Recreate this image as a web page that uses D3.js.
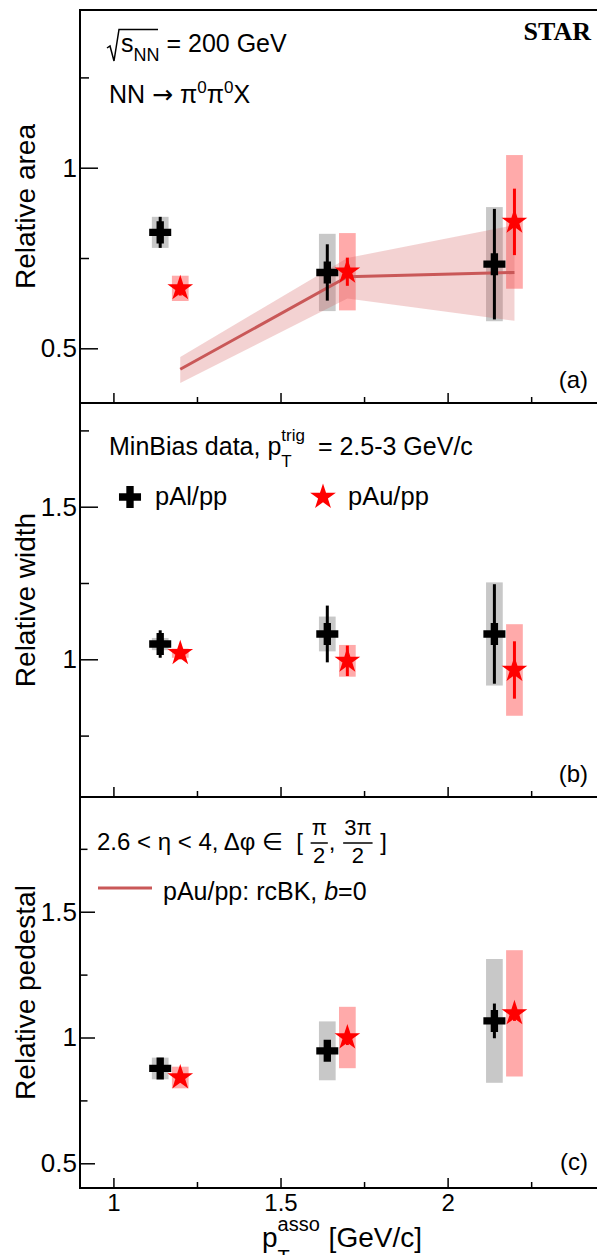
<!DOCTYPE html>
<html>
<head>
<meta charset="utf-8">
<script src="https://cdn.jsdelivr.net/npm/d3@7"></script>
<style>
  body { margin: 0; background: #fff; }
  text { font-family: "Liberation Sans", Arial, Helvetica, "DejaVu Sans", sans-serif; }
</style>
</head>
<body>
<svg id="chart" width="597" height="1255"></svg>
<script>
// x positions (GeV/c)
const ptAl = [1.14, 1.64, 2.14];
const ptAu = [1.2, 1.7, 2.2];

// (a) relative area
const alArea = [0.821, 0.710, 0.733];
const alAreaStat = [0.043, 0.078, 0.153];
const alAreaSys = [0.043, 0.107, 0.158];
const auArea = [0.666, 0.712, 0.850];
const auAreaStat = [0.02, 0.039, 0.092];
const auAreaSys = [0.035, 0.107, 0.185];

// rcBK calculation, pAu/pp
const thPt = [1.2, 1.7, 2.2];
const thArea = [0.442, 0.698, 0.710];
const thLow = [0.404, 0.638, 0.576];
const thHigh = [0.476, 0.750, 0.841];

// (b) relative width
const alWidth = [1.05, 1.083, 1.083];
const alWidthStat = [0.045, 0.093, 0.163];
const alWidthSys = [0.02, 0.057, 0.169];
const auWidth = [1.02, 0.995, 0.965];
const auWidthStat = [0.02, 0.05, 0.094];
const auWidthSys = [0.015, 0.052, 0.15];

// (c) relative pedestal
const alPed = [0.877, 0.947, 1.066];
const alPedStat = [0.02, 0.03, 0.069];
const alPedSys = [0.043, 0.117, 0.246];
const auPed = [0.841, 1.0, 1.096];
const auPedStat = [0.02, 0.03, 0.03];
const auPedSys = [0.043, 0.122, 0.251];

// ticks
const xMajor = [1, 1.5, 2];
const xMinor = [1.25, 1.75, 2.25];
const xLabels = ["1", "1.5", "2"];
const yMajorA = [0.5, 1], yLabelsA = ["0.5", "1"], yMinorA = [0.75, 1.25];
const yMajorB = [1, 1.5], yLabelsB = ["1", "1.5"], yMinorB = [0.75, 1.25, 1.75];
const yMajorC = [0.5, 1, 1.5], yLabelsC = ["0.5", "1", "1.5"], yMinorC = [0.75, 1.25, 1.75];

const svg = d3.select("#chart");
const left = 80, right = 598;
const x = d3.scaleLinear().domain([0.9, 2.45]).range([left, right]);
const boxHalf = 0.025;

const greyBox = "#c8c8c8", pinkBox = "#ffaaaa", red = "#ff0000";
const thColor = "#c95858", bandColor = "rgba(210,90,90,0.27)";

const panels = [
    {y0: 10, y1: 403, dom: [0.3486, 1.4366], major: yMajorA, labels: yLabelsA, minor: yMinorA, tick: 18,
     title: "Relative area", tag: "(a)", tagY: 388,
     al: [alArea, alAreaStat, alAreaSys], au: [auArea, auAreaStat, auAreaSys], theory: true},
    {y0: 403, y1: 797, dom: [0.5488, 1.8398], major: yMajorB, labels: yLabelsB, minor: yMinorB, tick: 18,
     title: "Relative width", tag: "(b)", tagY: 782,
     al: [alWidth, alWidthStat, alWidthSys], au: [auWidth, auWidthStat, auWidthSys]},
    {y0: 797, y1: 1188, dom: [0.4018, 1.956], major: yMajorC, labels: yLabelsC, minor: yMinorC, tick: 15,
     title: "Relative pedestal", tag: "(c)", tagY: 1170,
     al: [alPed, alPedStat, alPedSys], au: [auPed, auPedStat, auPedSys], xLabels: true}
];

const cross = d3.symbol(d3.symbolCross, 270)();
const star = d3.symbol(d3.symbolStar, 205)();

// sequential pieces of text: plain, stacked sup/sub, or fraction
function rich(g, x0, y0, parts, base) {
    base = base || 24;
    const grp = g.append("g").attr("transform", `translate(${x0},${y0})`);
    let cx = 0;
    const put = (t, px, py, fs, p) => {
        const el = grp.append("text")
            .attr("x", px).attr("y", py)
            .attr("font-size", fs)
            .attr("xml:space", "preserve")
            .style("white-space", "pre")
            .text(t);
        if (p && p.it) el.attr("font-style", "italic");
        if (p && p.fam) el.style("font-family", p.fam);
        return el;
    };
    parts.forEach(p => {
        if (typeof p === "string") p = {t: p};
        if (p.num !== undefined) {
            const fs = p.fs || 22;
            const n = put(p.num, 0, 0, fs).attr("text-anchor", "middle");
            const d = put(p.den, 0, 0, fs).attr("text-anchor", "middle");
            const w = Math.max(n.node().getComputedTextLength(), d.node().getComputedTextLength()) + 2;
            n.attr("x", cx + w / 2 + 1).attr("y", -15);
            d.attr("x", cx + w / 2 + 1).attr("y", 13);
            grp.append("line").attr("x1", cx + 1).attr("x2", cx + w + 1)
                .attr("y1", -7).attr("y2", -7).attr("stroke", "#000").attr("stroke-width", 1.5);
            cx += w + 2;
        } else if (p.sup !== undefined) {
            const fs = p.fs || 17;
            const a = put(p.sup, cx, p.supDy || -14, fs);
            const b = put(p.sub, cx, p.subDy || 12, fs);
            cx += Math.max(a.node().getComputedTextLength(), b.node().getComputedTextLength()) + (p.gap || 1);
        } else {
            const el = put(p.t, cx, p.dy || 0, p.fs || base, p);
            cx += el.node().getComputedTextLength();
        }
    });
    return grp;
}

panels.forEach(P => {
    const y = d3.scaleLinear().domain(P.dom).range([P.y1, P.y0]);
    const g = svg.append("g");

    // systematic boxes
    [[ptAl, P.al, greyBox], [ptAu, P.au, pinkBox]].forEach(([px, s, col]) => {
        g.append("g").selectAll("rect").data(px).enter().append("rect")
            .attr("x", d => x(d - boxHalf))
            .attr("width", d => x(d + boxHalf) - x(d - boxHalf))
            .attr("y", (d, i) => y(s[0][i] + s[2][i]))
            .attr("height", (d, i) => y(s[0][i] - s[2][i]) - y(s[0][i] + s[2][i]))
            .attr("fill", col);
    });

    if (P.theory) {
        const band = d3.area()
            .x((d, i) => x(thPt[i]))
            .y0((d, i) => y(thLow[i]))
            .y1((d, i) => y(thHigh[i]));
        g.append("path").attr("d", band(thPt)).attr("fill", bandColor);
        const line = d3.line().x((d, i) => x(thPt[i])).y((d, i) => y(thArea[i]));
        g.append("path").attr("d", line(thPt)).attr("fill", "none")
            .attr("stroke", thColor).attr("stroke-width", 3);
    }

    // statistical errors and markers
    [[ptAl, P.al, "#000", cross], [ptAu, P.au, red, star]].forEach(([px, s, col, sym]) => {
        g.append("g").selectAll("line").data(px).enter().append("line")
            .attr("x1", d => x(d)).attr("x2", d => x(d))
            .attr("y1", (d, i) => y(s[0][i] + s[1][i]))
            .attr("y2", (d, i) => y(s[0][i] - s[1][i]))
            .attr("stroke", col).attr("stroke-width", 3);
        g.append("g").selectAll("path").data(px).enter().append("path")
            .attr("d", sym)
            .attr("transform", (d, i) => `translate(${x(d)},${y(s[0][i])})`)
            .attr("fill", col);
    });

    // axes
    const yAxis = d3.axisLeft(y).tickValues(P.major)
        .tickFormat((d, i) => P.labels[i]).tickSizeInner(-P.tick).tickSizeOuter(0).tickPadding(3);
    const ya = g.append("g").attr("transform", `translate(${left},0)`).call(yAxis);
    ya.select(".domain").remove();
    ya.selectAll("text").attr("font-size", 26).attr("fill", "#000")
        .style("font-family", '"Liberation Sans", Arial, sans-serif');
    const yMin = g.append("g").attr("transform", `translate(${left},0)`)
        .call(d3.axisLeft(y).tickValues(P.minor).tickFormat("").tickSizeInner(-P.tick / 2).tickSizeOuter(0));
    yMin.select(".domain").remove();

    const xAxis = d3.axisBottom(x).tickValues(xMajor)
        .tickFormat((d, i) => P.xLabels ? xLabels[i] : "").tickSizeInner(-10).tickSizeOuter(0).tickPadding(6);
    const xa = g.append("g").attr("transform", `translate(0,${P.y1})`).call(xAxis);
    xa.select(".domain").remove();
    xa.selectAll("text").attr("font-size", 24).attr("fill", "#000")
        .style("font-family", '"Liberation Sans", Arial, sans-serif');
    const xMin = g.append("g").attr("transform", `translate(0,${P.y1})`)
        .call(d3.axisBottom(x).tickValues(xMinor).tickFormat("").tickSizeInner(-6).tickSizeOuter(0));
    xMin.select(".domain").remove();
    g.selectAll(".tick line").attr("stroke", "#000").attr("stroke-width", 1.5);

    g.append("rect").attr("x", left).attr("y", P.y0)
        .attr("width", right - left).attr("height", P.y1 - P.y0)
        .attr("fill", "none").attr("stroke", "#000").attr("stroke-width", 2);

    g.append("text")
        .attr("transform", `translate(35,${(P.y0 + P.y1) / 2}) rotate(-90)`)
        .attr("text-anchor", "middle").attr("font-size", 28).text(P.title);

    g.append("text").attr("x", 588).attr("y", P.tagY)
        .attr("text-anchor", "end").attr("font-size", 24).text(P.tag);
});

// panel (a) labels
svg.append("path").attr("d", "M107,48 L110,46 L114,61 L119,29.5 L158,29.5")
    .attr("fill", "none").attr("stroke", "#000").attr("stroke-width", 1.5);
rich(svg, 121, 52, ["s", {t: "NN", fs: 18, dy: 9}, " = 200 GeV"], 25);
rich(svg, 109, 103, ["NN ", {t: "\u2192", fs: 25, fam: '"DejaVu Sans", sans-serif'}, " \u03c0",
    {t: "0", fs: 17, dy: -10}, "\u03c0", {t: "0", fs: 17, dy: -10}, "X"], 25);
svg.append("text").attr("x", 591).attr("y", 40).attr("text-anchor", "end")
    .attr("font-size", 26).attr("font-weight", "bold")
    .style("font-family", '"Liberation Serif", "Times New Roman", serif').text("STAR");

// panel (b) labels and legend
rich(svg, 109, 455, ["MinBias data, p", {sup: "trig", sub: "T", gap: 6}, " = 2.5-3 GeV/c"], 25);
svg.append("path").attr("d", cross).attr("transform", "translate(130,497)").attr("fill", "#000");
rich(svg, 155, 505, ["pAl/pp"], 25.5);
svg.append("path").attr("d", star).attr("transform", "translate(323,497)").attr("fill", red);
rich(svg, 348, 505, ["pAu/pp"], 25.5);

// panel (c) labels and legend
rich(svg, 97, 850, ["2.6 < \u03b7 < 4, \u0394\u03c6 \u2208  [ ", {num: "\u03c0", den: "2"}, ", ",
    {num: "3\u03c0", den: "2"}, " ]"]);
svg.append("line").attr("x1", 98).attr("x2", 152).attr("y1", 888).attr("y2", 888)
    .attr("stroke", thColor).attr("stroke-width", 3);
rich(svg, 163, 900, ["pAu/pp: rcBK, ", {t: "b", it: true}, "=0"], 25);

// x axis title
rich(svg, 262, 1247, [{t: "p", fs: 28}, {sup: "asso", sub: "T", fs: 20, supDy: -16, subDy: 17},
    {t: " [GeV/c]", fs: 28}]);
</script>
</body>
</html>
